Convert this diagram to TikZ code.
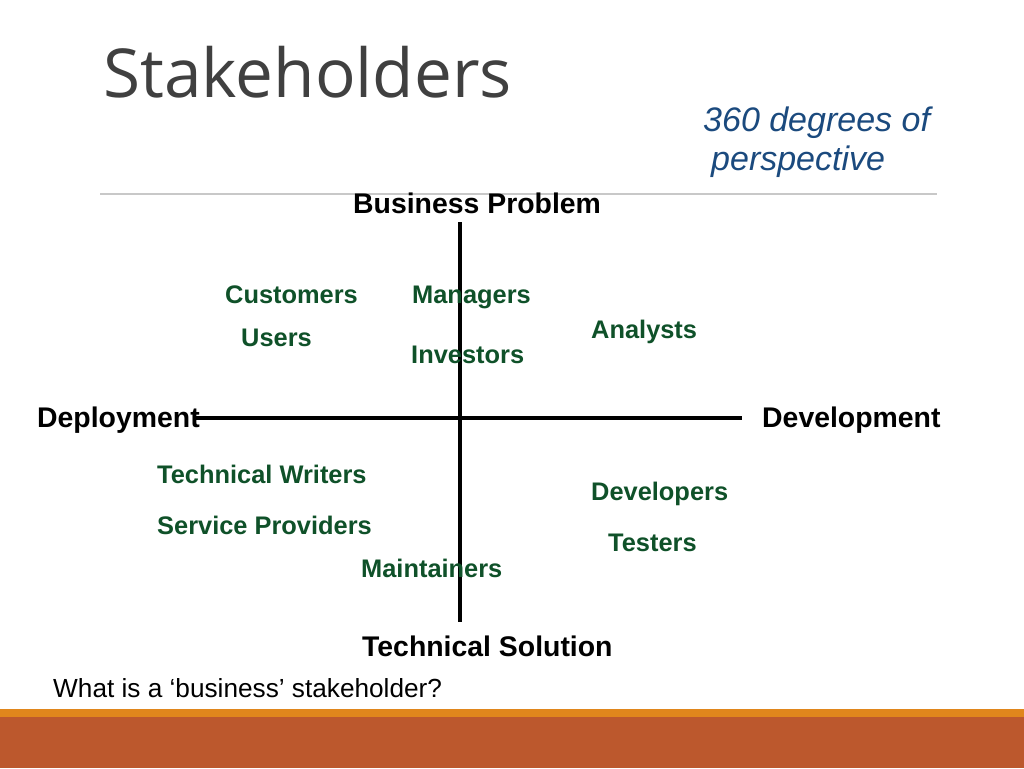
\documentclass[tikz,border=0pt]{standalone}
\usepackage{fontspec}
\setmainfont{Liberation Sans}
\newfontfamily\titlefont{Open Sans}
\definecolor{stkgreen}{HTML}{0F5129}
\definecolor{stkblue}{HTML}{1B4A7E}
\definecolor{titlegray}{HTML}{404040}
\definecolor{barorange}{HTML}{E0861C}
\definecolor{barbrown}{HTML}{BC582D}
\definecolor{rulegray}{HTML}{C8C8C8}
\tikzset{
  role/.style={anchor=base west, inner sep=0pt, text=stkgreen, font=\fontsize{25.4}{30}\selectfont\bfseries},
  axislabel/.style={anchor=base west, inner sep=0pt, text=black, font=\fontsize{28.4}{34}\selectfont\bfseries},
  axisline/.style={line width=4.5pt, black},
  note/.style={anchor=base west, inner sep=0pt, text=stkblue, font=\fontsize{34}{40}\selectfont\itshape},
}
\begin{document}
\begin{tikzpicture}[x=1pt,y=-1pt]
\useasboundingbox (0,0) rectangle (1024,768);
\fill[white] (0,0) rectangle (1024,768);
% bottom bars
\fill[barorange] (0,709) rectangle (1024,717);
\fill[barbrown] (0,717) rectangle (1024,768);
% title
\node[anchor=base west, inner sep=0pt, text=titlegray, font=\titlefont\fontsize{67.5}{80}\selectfont] (title) at (103,97) {Stakeholders};
\node[note] (n1) at (703,131) {360 degrees of};
\node[note] (n2) at (711,170) {perspective};
% rule
\coordinate (ruleL) at (100,194);
\coordinate (ruleR) at (937,194);
\draw[rulegray, line width=1.5pt] (ruleL) -- (ruleR);
% axes
\coordinate (vtop) at (460,222);
\coordinate (vbot) at (460,622);
\coordinate (hleft) at (196,418);
\coordinate (hright) at (742,418);
\draw[axisline] (vtop) -- (vbot);
\draw[axisline] (hleft) -- (hright);
% axis labels
\node[axislabel] (bp) at (353,213) {Business Problem};
\node[axislabel] (ts) at (362,656) {Technical Solution};
\node[axislabel] (dep) at (37,427) {Deployment};
\node[axislabel] (dev) at (762,427) {Development};
% roles
\node[role] (cust) at (225,303) {Customers};
\node[role] (mgr) at (412,303) {Managers};
\node[role] (users) at (241,346) {Users};
\node[role] (anal) at (591,338) {Analysts};
\node[role] (inv) at (411,363) {Investors};
\node[role] (tw) at (157,483) {Technical Writers};
\node[role] (devs) at (591,500) {Developers};
\node[role] (sp) at (157,534) {Service Providers};
\node[role] (test) at (608,551) {Testers};
\node[role] (maint) at (361,577) {Maintainers};
% question
\node[anchor=base west, inner sep=0pt, font=\fontsize{26.2}{31}\selectfont] (q) at (53,697) {What is a ‘business’ stakeholder?};
\end{tikzpicture}
\end{document}
